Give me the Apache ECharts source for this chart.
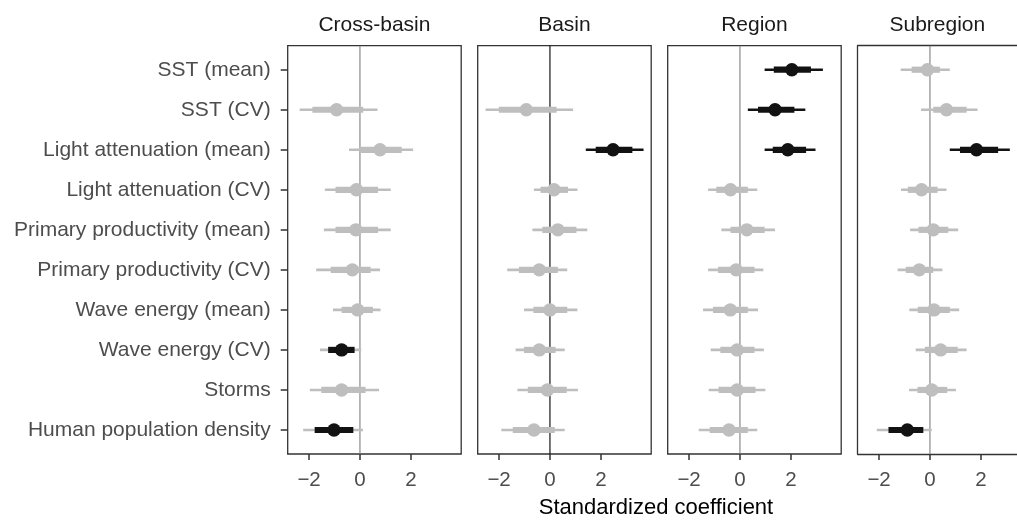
<!DOCTYPE html>
<html>
<head>
<meta charset="utf-8">
<script src="https://cdn.jsdelivr.net/npm/echarts@6/dist/echarts.min.js"></script>
<style>
html,body{margin:0;padding:0;background:#fff;}
#chart{width:1017px;height:526px;}
</style>
</head>
<body>
<div id="chart"></div>
<script>
// ---------- data ----------
const predictors = ["SST (mean)", "SST (CV)", "Light attenuation (mean)", "Light attenuation (CV)",
  "Primary productivity (mean)", "Primary productivity (CV)", "Wave energy (mean)",
  "Wave energy (CV)", "Storms", "Human population density"];
const panels = ["Cross-basin", "Basin", "Region", "Subregion"];
const xTicks = [-2, 0, 2];

const crossEst  = [null, -0.92, 0.79, -0.14, -0.16, -0.30, -0.09, -0.72, -0.72, -1.02];
const crossLo95 = [null, -2.37, -0.43, -1.38, -1.42, -1.72, -1.06, -1.57, -1.97, -2.23];
const crossHi95 = [null, 0.69, 2.09, 1.21, 1.21, 0.79, 0.81, 0.05, 0.75, 0.12];
const crossLo80 = [null, -1.87, -0.01, -0.96, -0.96, -1.15, -0.72, -1.25, -1.52, -1.78];
const crossHi80 = [null, 0.13, 1.64, 0.71, 0.71, 0.42, 0.51, -0.21, 0.22, -0.26];
const crossSig  = [0, 0, 0, 0, 0, 0, 0, 1, 0, 1];

const basinEst  = [null, -0.93, 2.48, 0.16, 0.31, -0.42, 0.00, -0.42, -0.10, -0.63];
const basinLo95 = [null, -2.53, 1.41, -0.63, -0.69, -1.68, -1.02, -1.35, -1.28, -1.91];
const basinHi95 = [null, 0.91, 3.68, 1.08, 1.47, 0.68, 1.08, 0.58, 1.10, 0.58];
const basinLo80 = [null, -2.01, 1.80, -0.37, -0.30, -1.22, -0.65, -1.02, -0.87, -1.46];
const basinHi80 = [null, 0.26, 3.24, 0.71, 1.04, 0.31, 0.68, 0.22, 0.66, 0.19];
const basinSig  = [0, 0, 1, 0, 0, 0, 0, 0, 0, 0];

const regionEst  = [2.04, 1.38, 1.88, -0.37, 0.27, -0.15, -0.38, -0.11, -0.11, -0.43];
const regionLo95 = [0.97, 0.31, 0.97, -1.25, -0.73, -1.25, -1.45, -1.15, -1.23, -1.62];
const regionHi95 = [3.26, 2.57, 2.97, 0.68, 1.38, 0.92, 0.71, 0.94, 1.00, 0.68];
const regionLo80 = [1.33, 0.71, 1.29, -0.93, -0.37, -0.86, -1.06, -0.77, -0.84, -1.19];
const regionHi80 = [2.79, 2.14, 2.60, 0.31, 0.97, 0.57, 0.31, 0.57, 0.61, 0.31];
const regionSig  = [1, 1, 1, 0, 0, 0, 0, 0, 0, 0];

const subEst  = [-0.10, 0.65, 1.83, -0.33, 0.13, -0.42, 0.16, 0.42, 0.07, -0.89];
const subLo95 = [-1.15, -0.35, 0.78, -1.14, -0.78, -1.27, -0.81, -0.56, -0.82, -2.09];
const subHi95 = [0.78, 1.87, 3.14, 0.65, 1.11, 0.49, 1.15, 1.44, 1.02, 0.07];
const subLo80 = [-0.72, 0.13, 1.18, -0.87, -0.45, -0.95, -0.48, -0.20, -0.49, -1.63];
const subHi80 = [0.39, 1.44, 2.68, 0.30, 0.72, 0.13, 0.78, 1.09, 0.68, -0.26];
const subSig  = [0, 0, 1, 0, 0, 0, 0, 0, 0, 1];

// ---------- build ----------
const panelData = [
  [crossEst, crossLo95, crossHi95, crossLo80, crossHi80, crossSig],
  [basinEst, basinLo95, basinHi95, basinLo80, basinHi80, basinSig],
  [regionEst, regionLo95, regionHi95, regionLo80, regionHi80, regionSig],
  [subEst, subLo95, subHi95, subLo80, subHi80, subSig]
];
const zeroColors = ["#7f7f7f", "#000000", "#7f7f7f", "#7f7f7f"];

const FONT = "'Liberation Sans', Arial, Helvetica, sans-serif";
const GREY = "#bebebe", BLACK = "#121212", FRAME = "#333333";
const CW = 1017;
const gLeft0 = 287.7, gStep = 190, gWidth = 173.5, gTop = 45.7, gHeight = 408.3;
const XMIN = -2.84, XMAX = 3.98;
const YMIN = 0.4, YMAX = 10.6;

const grids = [], xAxes = [], yAxes = [], series = [], titles = [];
panels.forEach((name, i) => {
  const left = gLeft0 + i * gStep;
  // the last facet is cut off by the picture edge
  const clipped = left + gWidth > CW;
  const width = clipped ? CW - left : gWidth;
  const xmax = clipped ? XMIN + (XMAX - XMIN) * width / gWidth : XMAX;
  grids.push({left: left, top: gTop, width: width, height: gHeight, show: true,
    borderColor: FRAME, borderWidth: clipped ? 0 : 1.3, backgroundColor: "#ffffff", containLabel: false});
  xAxes.push({type: "value", gridIndex: i, min: XMIN, max: xmax, position: "bottom",
    axisLine: {show: clipped, onZero: false, lineStyle: {color: FRAME, width: 1.3}}, splitLine: {show: false},
    axisTick: {show: true, length: 6, customValues: xTicks, lineStyle: {color: FRAME, width: 1.5}},
    axisLabel: {show: true, customValues: xTicks, margin: 16, color: "#4d4d4d", fontSize: 20.5, fontFamily: FONT,
      formatter: v => String(v).replace("-", "\u2212")}});
  yAxes.push({type: "value", gridIndex: i, min: YMIN, max: YMAX, inverse: true, position: "left",
    axisLine: {show: clipped, onZero: false, lineStyle: {color: FRAME, width: 1.3}}, splitLine: {show: false},
    axisTick: {show: i === 0, length: 7, customValues: predictors.map((p, k) => k + 1), lineStyle: {color: FRAME, width: 1.5}},
    axisLabel: {show: i === 0, customValues: predictors.map((p, k) => k + 1), margin: 17, color: "#4d4d4d", fontSize: 21, fontFamily: FONT,
      formatter: v => predictors[Math.round(v) - 1] || ""}});
  titles.push({text: name, left: left + width / 2, top: 15, textAlign: "center", padding: 0,
    textStyle: {fontSize: 21, fontWeight: "normal", color: "#1a1a1a", fontFamily: FONT}});

  // zero reference line
  series.push({type: "custom", xAxisIndex: i, yAxisIndex: i, data: [[0, YMIN, YMAX]], z: 1, silent: true, animation: false,
    encode: {x: 0, y: [1, 2]},
    renderItem: (params, api) => {
      const p = api.coord([api.value(0), api.value(1)]), q = api.coord([api.value(0), api.value(2)]);
      return {type: "line", shape: {x1: p[0], y1: p[1], x2: q[0], y2: q[1]}, style: {stroke: zeroColors[i], lineWidth: 1.1}};
    }});

  const [est, lo95, hi95, lo80, hi80, sig] = panelData[i];
  const rows = [];
  predictors.forEach((p, k) => {
    if (est[k] === null) return;
    rows.push([k + 1, lo95[k], hi95[k], lo80[k], hi80[k], est[k], sig[k]]);
  });
  series.push({type: "custom", xAxisIndex: i, yAxisIndex: i, data: rows, z: 3, animation: false,
    dimensions: ["row", "lo95", "hi95", "lo80", "hi80", "est", "sig"],
    encode: {x: [1, 2, 3, 4, 5], y: 0},
    renderItem: (params, api) => {
      const y = api.value(0);
      const a = api.coord([api.value(1), y]), b = api.coord([api.value(2), y]);
      const c = api.coord([api.value(3), y]), d = api.coord([api.value(4), y]);
      const e = api.coord([api.value(5), y]);
      const outerSig = api.value(1) > 0 || api.value(2) < 0;
      const colOuter = outerSig ? BLACK : GREY;
      const colInner = api.value(6) ? BLACK : GREY;
      return {type: "group", children: [
        {type: "line", shape: {x1: a[0], y1: a[1], x2: b[0], y2: b[1]}, style: {stroke: colOuter, lineWidth: 2.6}},
        {type: "line", shape: {x1: c[0], y1: c[1], x2: d[0], y2: d[1]}, style: {stroke: colInner, lineWidth: 6.2}},
        {type: "circle", shape: {cx: e[0], cy: e[1], r: 6.7}, style: {fill: colInner}}
      ]};
    }});

  if (clipped) {
    // top frame edge of the clipped facet
    xAxes.push({type: "value", gridIndex: i, min: XMIN, max: xmax, position: "top",
      axisLine: {show: true, onZero: false, lineStyle: {color: FRAME, width: 1.3}},
      axisTick: {show: false}, axisLabel: {show: false}, splitLine: {show: false}});
  }
});
titles.push({text: "Standardized coefficient", left: 656, top: 497, textAlign: "center", padding: 0,
  textStyle: {fontSize: 22, fontWeight: "normal", color: "#000000", fontFamily: FONT}});

const chart = echarts.init(document.getElementById("chart"), null, {renderer: "canvas"});
chart.setOption({
  backgroundColor: "#ffffff",
  animation: false,
  title: titles,
  grid: grids,
  xAxis: xAxes,
  yAxis: yAxes,
  series: series
});
</script>
</body>
</html>
